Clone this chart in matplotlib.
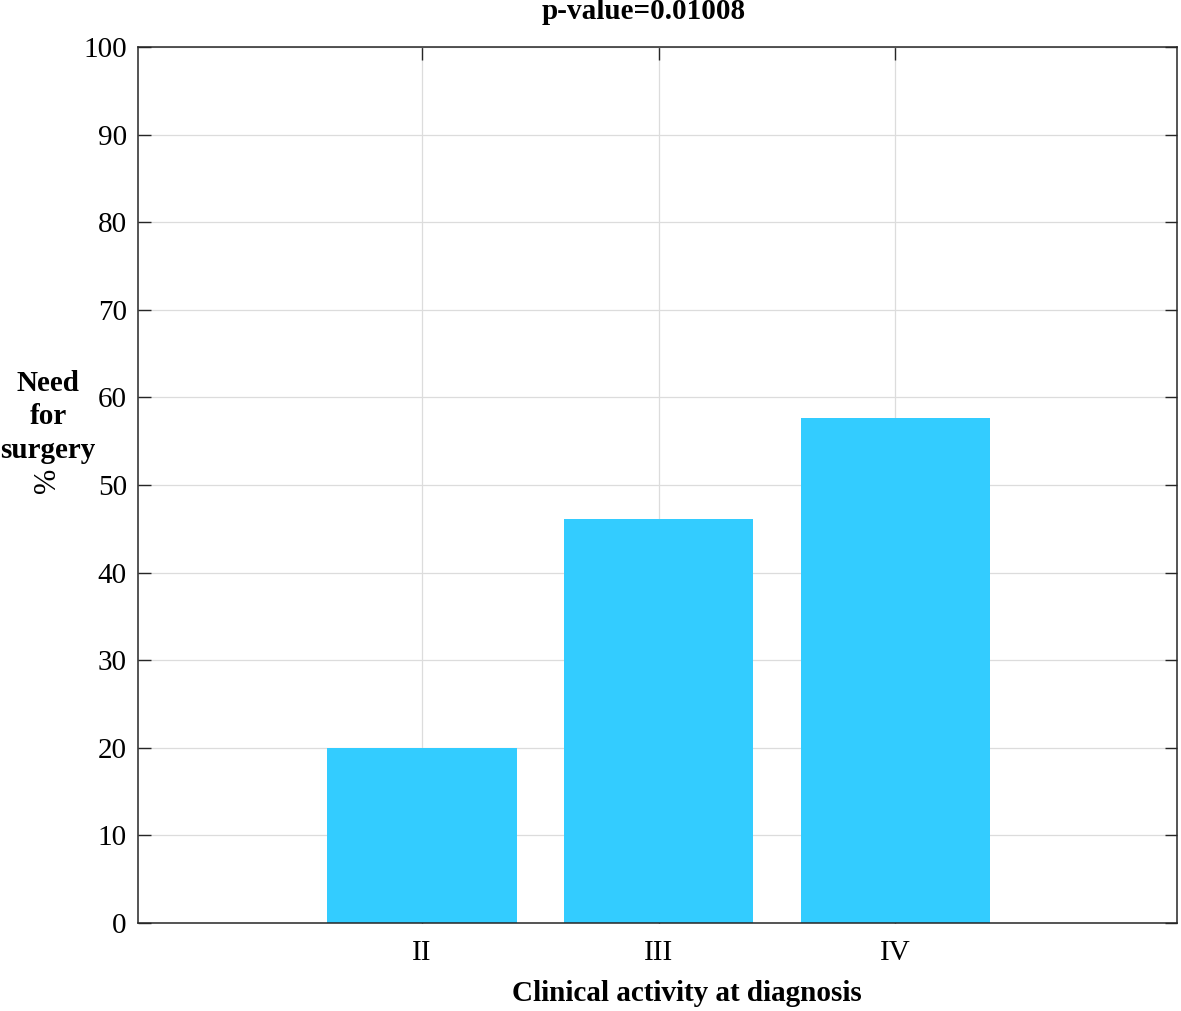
import numpy as np
import matplotlib
matplotlib.use('Agg')
import matplotlib.pyplot as plt

# data
categories = ['II', 'III', 'IV']
positions = [2, 3, 4]
need_surgery = [20.0, 46.1, 57.7]
yticks = list(range(0, 101, 10))

plt.rcParams['font.family'] = ['Liberation Serif', 'DejaVu Serif']

fig = plt.figure(figsize=(11.81, 10.11), dpi=100)
ax = fig.add_axes([0.1168, 0.087, 0.8798, 0.8665])

ax.bar(positions, need_surgery, width=0.8, color='#33CCFF', zorder=2)

ax.set_xlim(0.8, 5.19)
ax.set_ylim(0, 100)
ax.set_xticks(positions)
ax.set_xticklabels(categories)
ax.set_yticks(yticks)

ax.grid(True, color='#dcdcdc', linewidth=0.9, zorder=0)
ax.set_axisbelow(True)
ax.tick_params(direction='in', length=9, width=1, color='#262626',
               top=True, right=True, labelsize=21)
ax.tick_params(axis='y', pad=8)
ax.tick_params(axis='x', pad=12)
for s in ax.spines.values():
    s.set_color('#262626')
    s.set_linewidth(1.1)

ax.set_title('p-value=0.01008', fontsize=21, fontweight='bold', pad=20, x=0.487)
ax.set_xlabel('Clinical activity at diagnosis', fontsize=21, fontweight='bold', labelpad=12)
ax.xaxis.set_label_coords(0.528, -0.065)

fig.text(48 / 1181, 1 - 417 / 1011, 'Need\nfor\nsurgery', fontsize=21, fontweight='bold',
         ha='center', va='center', linespacing=1.3)
fig.text(48 / 1181, 1 - 480 / 1011, '%', fontsize=22, rotation=90, ha='center', va='center')

fig.savefig('out.png', dpi=100)
